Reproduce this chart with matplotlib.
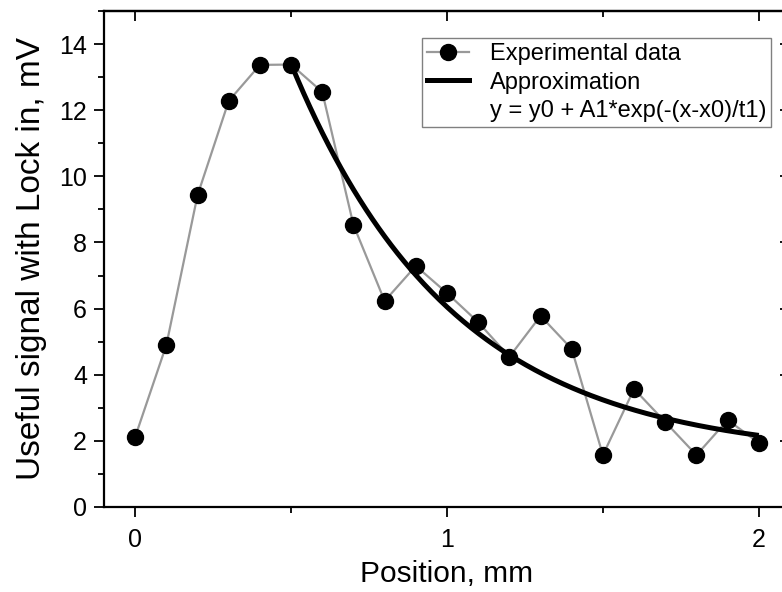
import matplotlib
matplotlib.use("Agg")
import matplotlib.pyplot as plt
from matplotlib.lines import Line2D
from matplotlib.ticker import MultipleLocator
import numpy as np

plt.rcParams['font.family'] = ['Liberation Sans', 'DejaVu Sans']

# Experimental data
position_mm = [0.0, 0.1, 0.2, 0.3, 0.4, 0.5, 0.6, 0.7, 0.8, 0.9, 1.0,
               1.1, 1.2, 1.3, 1.4, 1.5, 1.6, 1.7, 1.8, 1.9, 2.0]
signal_mV = [2.12, 4.90, 9.43, 12.28, 13.37, 13.38, 12.55, 8.53, 6.23, 7.29, 6.47,
             5.59, 4.54, 5.78, 4.78, 1.57, 3.57, 2.57, 1.57, 2.63, 1.94]

# Exponential fit parameters: y = y0 + A1*exp(-(x-x0)/t1)
fit_y0 = 1.5
fit_A1 = 11.9
fit_x0 = 0.5
fit_t1 = 0.52
fit_range = [0.5, 2.0]

legend_labels = ["Experimental data", "Approximation", "y = y0 + A1*exp(-(x-x0)/t1)"]
x_label = "Position, mm"
y_label = "Useful signal with Lock in, mV"

W, H = 782, 592
fig = plt.figure(figsize=(W / 100, H / 100), dpi=100)
ax = fig.add_axes([104 / W, 1 - 507 / H, (790 - 104) / W, (507 - 11) / H])

ax.plot(position_mm, signal_mV, color='#999999', lw=1.6, marker='o',
        markersize=11.5, markerfacecolor='black', markeredgecolor='black', zorder=3)

xf = np.linspace(fit_range[0], fit_range[1], 300)
yf = fit_y0 + fit_A1 * np.exp(-(xf - fit_x0) / fit_t1)
ax.plot(xf, yf, color='black', lw=3.6, zorder=4, solid_capstyle='butt')

ax.set_xlim(-0.1, 2.1)
ax.set_ylim(0, 15)
ax.xaxis.set_major_locator(MultipleLocator(1))
ax.xaxis.set_minor_locator(MultipleLocator(0.5))
ax.yaxis.set_minor_locator(MultipleLocator(1))
ax.set_yticks([0, 2, 4, 6, 8, 10, 12, 14])

for s in ax.spines.values():
    s.set_linewidth(1.6)
ax.tick_params(which='major', direction='out', length=7.2, width=1.3, labelsize=18)
ax.tick_params(axis='x', which='major', pad=8)
ax.tick_params(axis='y', which='major', pad=5)
ax.tick_params(which='minor', direction='out', length=4, width=1.3)

# top / right ticks inward
secx = ax.secondary_xaxis('top')
secx.xaxis.set_major_locator(MultipleLocator(1))
secx.xaxis.set_minor_locator(MultipleLocator(0.5))
secx.tick_params(which='major', direction='in', length=7, width=1.3, labeltop=False)
secx.tick_params(which='minor', direction='in', length=4, width=1.3)
secx.spines['top'].set_linewidth(1.6)
secy = ax.secondary_yaxis('right')
secy.yaxis.set_major_locator(MultipleLocator(2))
secy.yaxis.set_minor_locator(MultipleLocator(1))
secy.tick_params(which='major', direction='in', length=7, width=1.3, labelright=False)
secy.tick_params(which='minor', direction='in', length=4, width=1.3)
secy.spines['right'].set_linewidth(1.6)

ax.set_xlabel(x_label, fontsize=21.5, labelpad=6)
ax.set_ylabel(y_label, fontsize=24, labelpad=9)

h1 = Line2D([], [], color='#999999', lw=1.6, marker='o', markersize=11.5,
            markerfacecolor='black', markeredgecolor='black')
h2 = Line2D([], [], color='black', lw=3.6)
h3 = Line2D([], [], color='none')
leg = ax.legend([h1, h2, h3], legend_labels, loc='upper left',
                bbox_to_anchor=(422 / W, 1 - 38 / H), bbox_transform=fig.transFigure,
                borderaxespad=0, fontsize=17, frameon=True, fancybox=False,
                edgecolor='#808080', framealpha=1, handlelength=1.75,
                handletextpad=0.9, labelspacing=0.27, borderpad=0.22)
leg.get_frame().set_linewidth(1.0)

fig.savefig("out.png", dpi=100)
